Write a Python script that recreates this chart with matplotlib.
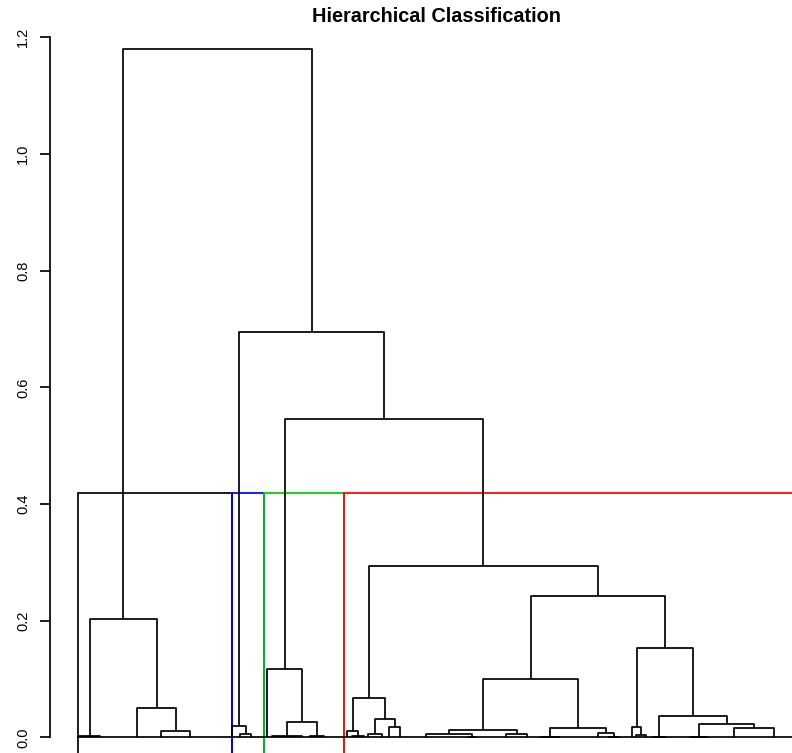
import matplotlib
matplotlib.use("Agg")
import matplotlib.pyplot as plt
from matplotlib.patches import Rectangle

# leaf groups are [size, anchor leaf] (identical points joined at height 0)
# merges are (height, left, right)
cluster_black = (0.202,
                 (0.002, [2, 1.5], [24, 10]),
                 (0.05, [8, 4.5], (0.01, [16, 8.5], [27, 7])))
cluster_blue = (0.02, [1, 1], (0.006, [7, 4], [8, 2.5]))
cluster_green = (0.117, [4, 2.5],
                 (0.027, (0.003, [1, 1], [17, 15]), (0.003, [3, 2], [15, 6])))
red_left = (0.068,
            (0.011, [4, 2.5], (0.002, [1, 1], [7, 6])),
            (0.031, (0.006, [1, 1], [7, 7]), (0.018, [6, 3.5], [15, 3])))
red_mid = (0.1,
           (0.013, (0.0055, [21, 1], (0.0012, [1, 1], [6, 4])),
            (0.0055, [13, 13], [15, 10.5])),
           (0.0154, (0.001, [2, 2], [12, 10]),
            (0.008, [17, 17], (0.001, [5, 5], [11, 6]))))
red_right = (0.1536,
             (0.018, [1, 1], (0.004, [3, 2], [5, 4])),
             (0.0365, (0.001, [2, 2], [9, 7]),
              (0.0228, (0.001, [10, 10], [14, 9]), (0.0154, [10, 8], [30, 18]))))
cluster_red = (0.294, red_left, (0.242, red_mid, red_right))
tree = (1.18, cluster_black, (0.695, cluster_blue, (0.545, cluster_green, cluster_red)))

clusters = [cluster_black, cluster_blue, cluster_green, cluster_red]
rect_colors = ["black", "#0000FF", "#00CD00", "#FF0000"]
yticks = [0.0, 0.2, 0.4, 0.6, 0.8, 1.0, 1.2]


def size(node):
    if isinstance(node, list):
        return node[0]
    return size(node[1]) + size(node[2])


def heights(node):
    if isinstance(node, list):
        return []
    return [node[0]] + heights(node[1]) + heights(node[2])


segs = []


def layout(node, start):
    # returns anchor x, height, next free leaf position
    if isinstance(node, list):
        n, a = node
        # zero-height joins drawn along the baseline
        segs.append(([start - 0.5, start + n - 0.5], [0, 0]))
        return start + a - 1, 0.0, start + n
    h, left, right = node
    xl, hl, start = layout(left, start)
    xr, hr, start = layout(right, start)
    segs.append(([xl, xl, xr, xr], [hl, h, h, hr]))
    return (xl + xr) / 2, h, start


layout(tree, 1)
N = size(tree)

W, H = 792, 753
fig = plt.figure(figsize=(W / 100, H / 100), dpi=100)
# plot region in pixels: left 50, top 22, x 2px/leaf, y 583.3px/unit
ybot, ytop = -0.06, 1.2263
xspan = (N - 1) * 1.08 * 2
yspan = (ytop - ybot) * 583.3
ax = fig.add_axes([49.5 / W, 1 - (22 + yspan) / H, xspan / W, yspan / H])
ax.set_xlim(1 - 0.04 * (N - 1), N + 0.04 * (N - 1))
ax.set_ylim(ybot, ytop)

lw = 1.25
for xs, ys in segs:
    ax.plot(xs, ys, color="black", lw=lw, solid_capstyle="butt")

# rect.hclust style boxes, cut between 3rd and 4th highest merge
hs = sorted(heights(tree), reverse=True)
cut = (hs[2] + hs[3]) / 2
m = 0
for cl, col in zip(clusters, rect_colors):
    n = size(cl)
    ax.add_patch(Rectangle((m + 0.6, ybot - 0.1), n, cut - ybot + 0.1,
                           fill=False, edgecolor=col, lw=lw))
    m += n

for s in ["top", "right", "bottom"]:
    ax.spines[s].set_visible(False)
ax.spines["left"].set_bounds(0, 1.2)
ax.spines["left"].set_linewidth(lw)
ax.set_xticks([])
ax.set_yticks(yticks)
ax.set_yticklabels(["%.1f" % v for v in yticks], family="Liberation Sans", fontsize=10.5)
ax.tick_params(axis="y", direction="out", length=7, width=lw, pad=7, labelrotation=90)
for t in ax.get_yticklabels():
    t.set_va("center")

fig.text(436 / W, 1 - 17 / H, "Hierarchical Classification", ha="center", va="center",
         family="Liberation Sans", fontweight="bold", fontsize=14.3)

fig.savefig("out.png", dpi=100)
